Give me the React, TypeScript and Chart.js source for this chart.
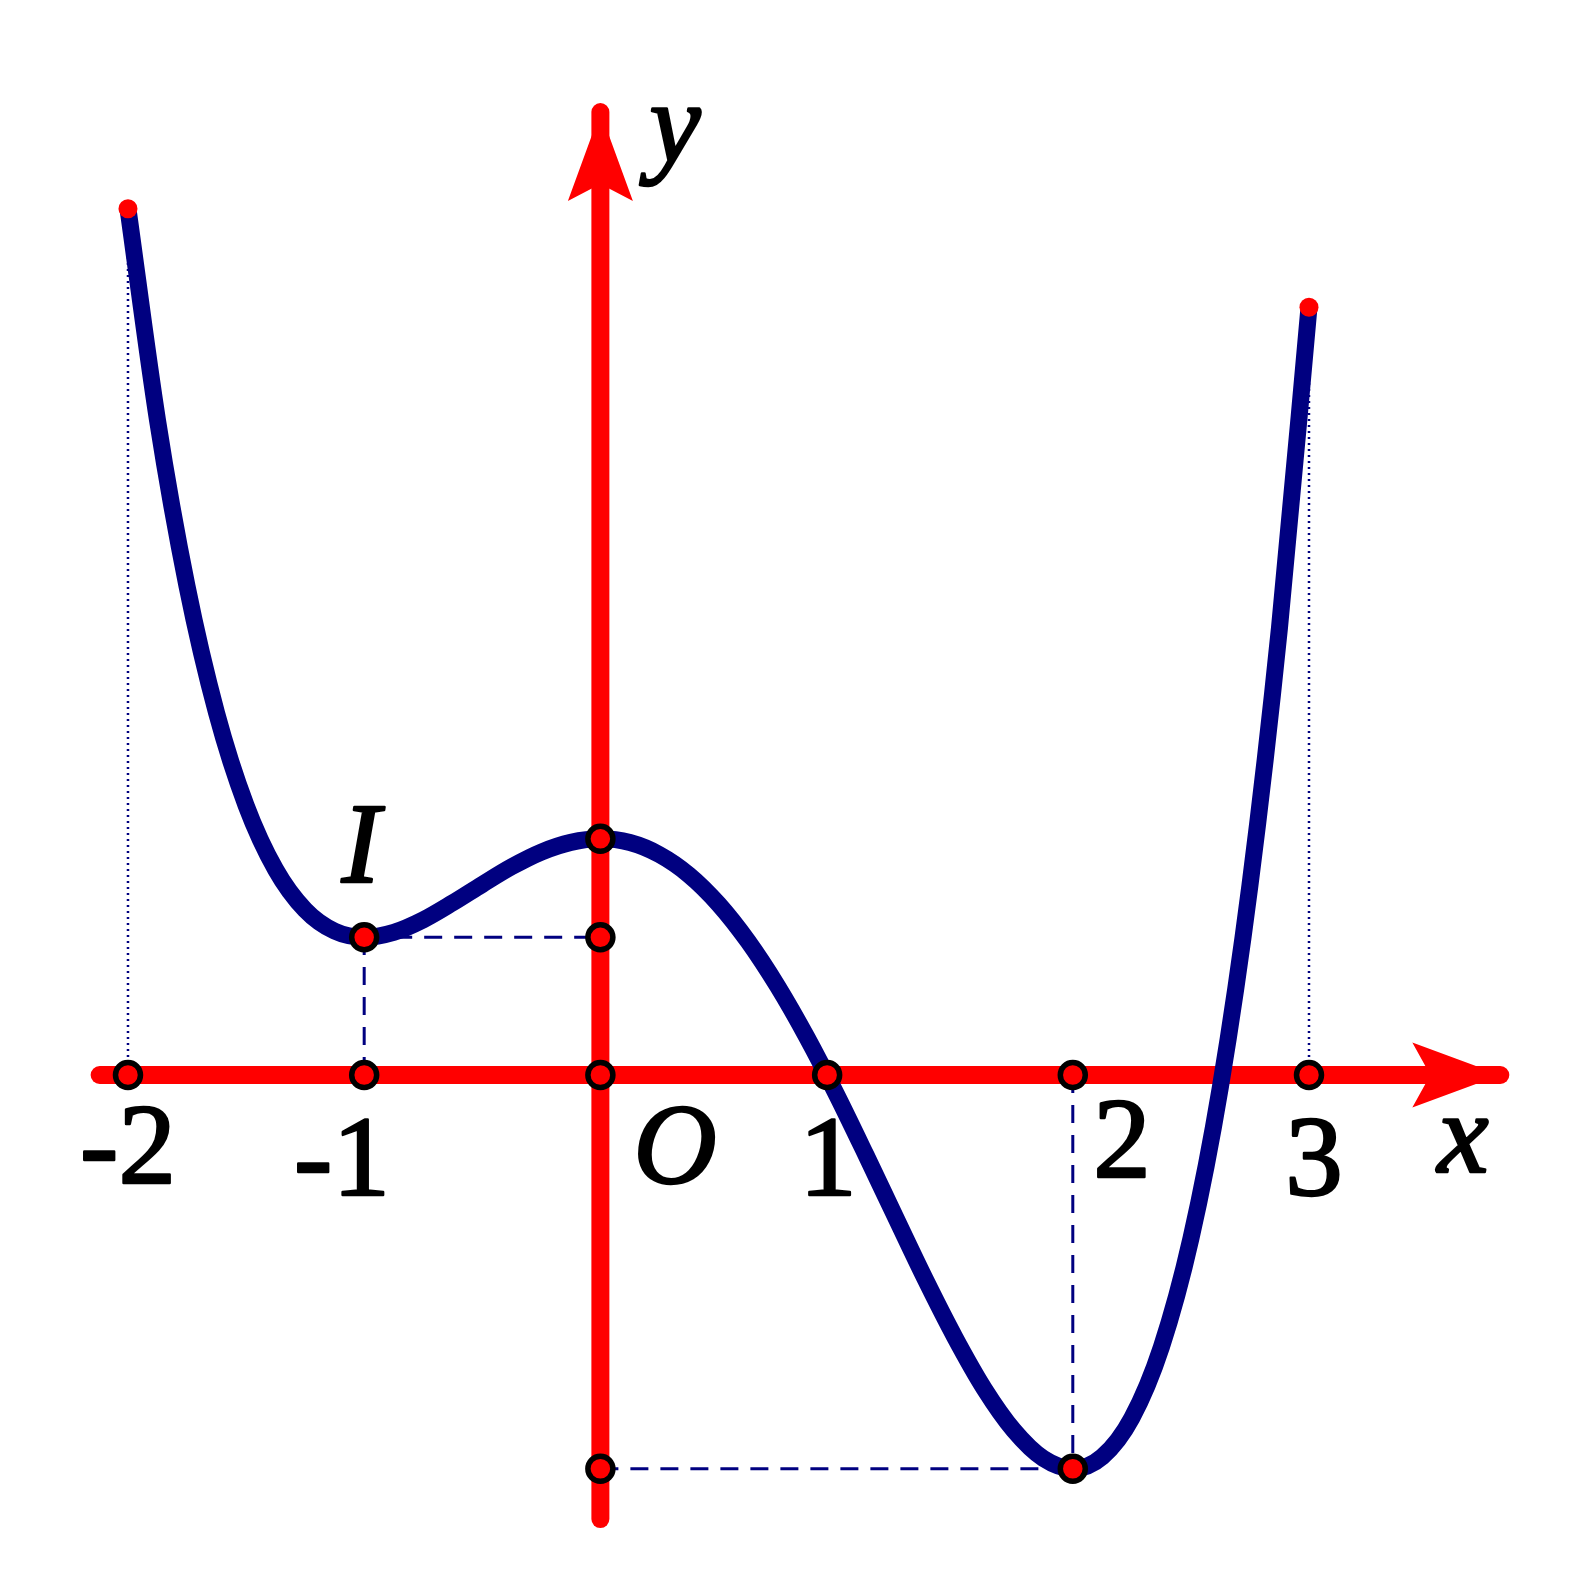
import React, { useEffect, useRef } from 'react';
import { Chart, registerables } from 'chart.js';

Chart.register(...registerables);

// ---- data ----
const curveX = [
  -2, -1.875, -1.75, -1.625, -1.5, -1.375, -1.25, -1.125, -1, -0.875, -0.75, -0.625, -0.5, -0.375, -0.25, -0.125,
  0, 0.125, 0.25, 0.375, 0.5, 0.625, 0.75, 0.875, 1, 1.125, 1.25, 1.375, 1.5, 1.625, 1.75, 1.875,
  2, 2.125, 2.25, 2.375, 2.5, 2.625, 2.75, 2.875, 3,
];
const curveY = [
  3.667, 2.772, 2.069, 1.533, 1.141, 0.870, 0.699, 0.609, 0.583, 0.604, 0.657, 0.729, 0.807, 0.882, 0.944, 0.985,
  1.0, 0.984, 0.933, 0.847, 0.724, 0.566, 0.376, 0.158, -0.083, -0.34, -0.603, -0.864, -1.109, -1.328, -1.504, -1.623,
  -1.667, -1.616, -1.452, -1.152, -0.693, -0.05, 0.803, 1.893, 3.25,
];
const markerX = [-2, -1, 0, 0.96, 2, 3, -1, 0, 0, 0, 2];
const markerY = [0, 0, 0, 0, 0, 0, 0.583, 0.583, 1.0, -1.667, -1.667];
const endX = [-2, 3];
const endY = [3.667, 3.25];
const xAxisRange = [-2.12, 3.81];
const yAxisRange = [-1.88, 4.077];
const dashedSegments = [
  [-1, 0.583, 0, 0.583],
  [-1, 0, -1, 0.583],
  [0, -1.667, 2, -1.667],
  [2, 0, 2, -1.667],
];
const dottedSegments = [
  [-2, 0, -2, 3.667],
  [3, 0, 3, 3.25],
];
const tickLabels = ['-2', '-1', 'O', '1', '2', '3'];
const axisNames = ['x', 'y'];
const pointName = 'I';

// ---- layout (anchor positions for text, in axis units) ----
const tickLabelAnchors = [
  [-2.0, -0.457],
  [-1.094, -0.508],
  [0.316, -0.457],
  [0.964, -0.508],
  [2.208, -0.432],
  [3.021, -0.508],
];
const axisNameAnchors = [
  [3.652, -0.411],
  [0.316, 3.865],
];
const pointNameAnchor = [-1.014, 0.817];

const RED = '#ff0000';
const NAVY = '#000080';
const FONT = '"Liberation Serif", "Times New Roman", serif';

const seg = (s: number[]) => [
  { x: s[0], y: s[1] },
  { x: s[2], y: s[3] },
];

const overlay = {
  id: 'overlay',
  afterDatasetsDraw(chart: any) {
    const ctx = chart.ctx as CanvasRenderingContext2D;
    const xs = chart.scales.x;
    const ys = chart.scales.y;
    const px = (v: number) => xs.getPixelForValue(v);
    const py = (v: number) => ys.getPixelForValue(v);

    const arrow = (tx: number, ty: number, dx: number, dy: number, back: number, notch: number, half: number) => {
      const nx = -dy;
      const ny = dx;
      ctx.beginPath();
      ctx.moveTo(tx, ty);
      ctx.lineTo(tx - dx * back + nx * half, ty - dy * back + ny * half);
      ctx.lineTo(tx - dx * notch, ty - dy * notch);
      ctx.lineTo(tx - dx * back - nx * half, ty - dy * back - ny * half);
      ctx.closePath();
      ctx.fillStyle = RED;
      ctx.fill();
    };
    ctx.save();
    arrow(px(xAxisRange[1]), py(0), 1, 0, 88, 70, 32.5);
    arrow(px(0), py(yAxisRange[1]), 0, -1, 89, 72, 32.5);

    ctx.fillStyle = '#000';
    ctx.strokeStyle = '#000';
    ctx.lineWidth = 2.5;
    ctx.lineJoin = 'round';
    ctx.textAlign = 'center';
    ctx.textBaseline = 'alphabetic';
    const put = (t: string, x: number, y: number) => {
      ctx.fillText(t, x, y);
      ctx.strokeText(t, x, y);
    };
    tickLabels.forEach((t, i) => {
      const italic = t === 'O';
      ctx.font = `${italic ? 'italic ' : ''}115px ${FONT}`;
      put(t, px(tickLabelAnchors[i][0]), py(tickLabelAnchors[i][1]));
    });
    ctx.font = `italic 115px ${FONT}`;
    axisNames.forEach((t, i) => {
      put(t, px(axisNameAnchors[i][0]), py(axisNameAnchors[i][1]));
    });
    put(pointName, px(pointNameAnchor[0]), py(pointNameAnchor[1]));
    ctx.restore();
  },
};

export default function App() {
  const ref = useRef<HTMLCanvasElement | null>(null);

  useEffect(() => {
    if (!ref.current) return;
    let chart: Chart | null = null;
    let cancelled = false;
    const lineBase = {
      type: 'line' as const,
      pointRadius: 0,
      pointHoverRadius: 0,
      fill: false,
      tension: 0,
      clip: false as any,
    };
    const datasets: any[] = [
      {
        ...lineBase,
        label: 'markers',
        data: markerX.map((x, i) => ({ x, y: markerY[i] })),
        showLine: false,
        pointRadius: 12.5,
        pointHoverRadius: 12.5,
        pointBackgroundColor: RED,
        pointBorderColor: '#000',
        pointBorderWidth: 5.5,
        order: 1,
      },
      {
        ...lineBase,
        label: 'ends',
        data: endX.map((x, i) => ({ x, y: endY[i] })),
        showLine: false,
        pointRadius: 9.5,
        pointHoverRadius: 9.5,
        pointBackgroundColor: RED,
        pointBorderWidth: 0,
        order: 2,
      },
      {
        ...lineBase,
        label: 'curve',
        data: curveX.map((x, i) => ({ x, y: curveY[i] })),
        borderColor: NAVY,
        borderWidth: 17,
        cubicInterpolationMode: 'monotone',
        borderCapStyle: 'butt',
        borderJoinStyle: 'round',
        order: 3,
      },
      ...dashedSegments.map((s) => ({
        ...lineBase,
        label: 'dash',
        data: seg(s),
        borderColor: NAVY,
        borderWidth: 3,
        borderDash: [18, 12],
        order: 4,
      })),
      ...dottedSegments.map((s) => ({
        ...lineBase,
        label: 'dot',
        data: seg(s),
        borderColor: NAVY,
        borderWidth: 2.5,
        borderDash: [2, 4],
        order: 4,
      })),
      {
        ...lineBase,
        label: 'xaxis',
        data: [
          { x: xAxisRange[0], y: 0 },
          { x: xAxisRange[1], y: 0 },
        ],
        borderColor: RED,
        borderWidth: 18,
        borderCapStyle: 'round',
        order: 5,
      },
      {
        ...lineBase,
        label: 'yaxis',
        data: [
          { x: 0, y: yAxisRange[0] },
          { x: 0, y: yAxisRange[1] },
        ],
        borderColor: RED,
        borderWidth: 18,
        borderCapStyle: 'round',
        order: 5,
      },
    ];

    const build = () => {
      if (cancelled || !ref.current) return;
      chart = new Chart(ref.current, {
        type: 'line',
        data: { datasets },
        options: {
          animation: false,
          responsive: false,
          devicePixelRatio: 1,
          layout: { padding: { left: 33.5, right: 24.8, top: 35.7, bottom: 34.6 } },
          scales: {
            x: { type: 'linear', min: -2.4, max: 4.0, display: false },
            y: { type: 'linear', min: -2.0, max: 4.4, display: false },
          },
          plugins: {
            legend: { display: false },
            tooltip: { enabled: false },
          },
          events: [],
        } as any,
        plugins: [overlay],
      });
    };

    const fonts: any = (document as any).fonts;
    if (fonts && fonts.load) {
      Promise.all([
        fonts.load('115px "Liberation Serif"'),
        fonts.load('italic 115px "Liberation Serif"'),
      ])
        .catch(() => null)
        .then(build);
    } else {
      build();
    }
    return () => {
      cancelled = true;
      if (chart) chart.destroy();
    };
  }, []);

  return (
    <div style={{ position: 'fixed', left: 0, top: 0, width: 1570, height: 1582, background: '#fff' }}>
      <canvas ref={ref} width={1570} height={1582} style={{ position: 'absolute', left: 0, top: 0, width: 1570, height: 1582, display: 'block' }} />
    </div>
  );
}
